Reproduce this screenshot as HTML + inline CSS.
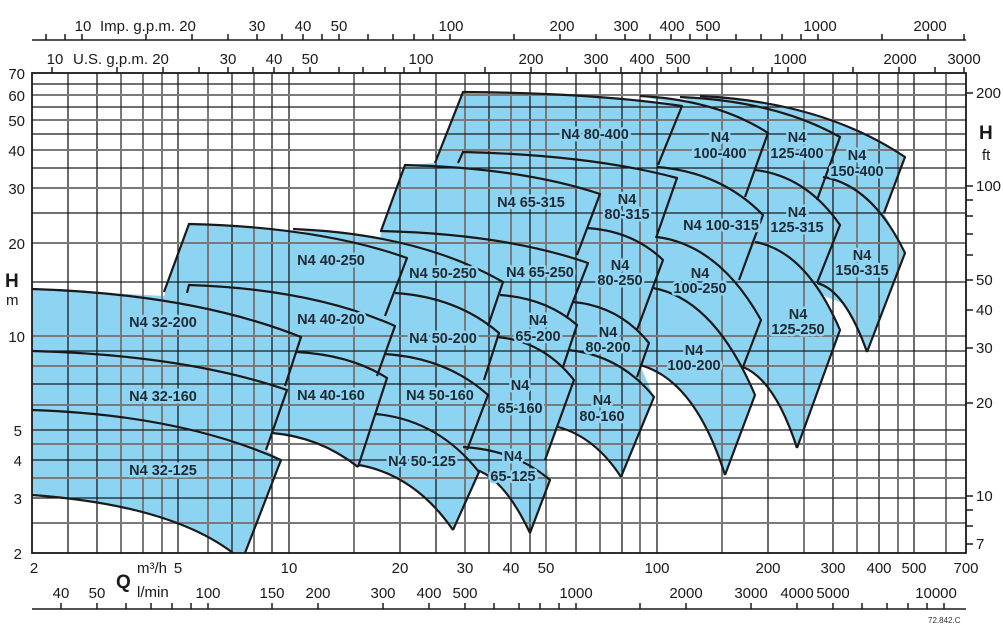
<!DOCTYPE html>
<html><head><meta charset="utf-8"><style>
html,body{margin:0;padding:0;background:#fff;}
svg{display:block;font-family:"Liberation Sans",sans-serif;}
.g1{stroke:#1c1c1c;stroke-width:1.3}
.g2{stroke:#7a7a7a;stroke-width:2}
.f{fill:#8dd3f2;stroke:none}
.s{fill:none;stroke:#1a1a1a;stroke-width:2.2;stroke-linejoin:round}
.t{font-size:15px;fill:#1a1a1a}
.p{font-size:14.5px;font-weight:bold;fill:#1f2a33;stroke:#8dd3f2;stroke-width:5;paint-order:stroke;stroke-linejoin:round}
.tk{stroke:#1a1a1a;stroke-width:1.5}
</style></head><body>
<svg width="1003" height="627" viewBox="0 0 1003 627" xmlns="http://www.w3.org/2000/svg">
<!-- fills -->
<g class="f">
<polygon points="32,289 164,296 189,224 380,247 381,231 405,165 435,163 463,92 682,106 700,97 905,157 884,213 905,253 867,352 856,324 844,304 822,295 840,330 797,448 786,415 772,392 758,375 743,367 755,395 725,475 708,432 689,400 666,378 640,365 654,397 621,477 607,459 592,444 576,434 558,427 545,460 550,480 530,533 517,509 504,491 491,478 477,470 479,472 453,530 433,505 410,486 386,473 359,465 358,467 318,443 272,433 266,450 281,460 245,553 233,553 197,531 151,514 96,502 32,495"/>
<path d="M32,289 Q193,294 301,337 L285,386 L287,390 Q185,355 32,351 Z"/>
<path d="M32,351 Q185,355 287,390 L266,450 L281,460 Q181,415 32,410 Z"/>
<path d="M32,410 Q181,415 281,460 L245,553 L233,553 Q170,505 32,495 Z"/>
<path d="M189,224 Q320,227 407,258 L385,316 L395,326 Q312,289 187,285 L164,292 Z"/>
<path d="M187,285 Q312,289 395,326 L377,376 L387,378 Q351,355 297,352 L301,337 L187,293 Z"/>
<path d="M297,352 Q351,355 387,378 L358,467 Q320,437 272,433 L287,390 Z"/>
<path d="M293,229 Q419,234 503,282 L488,326 L395,293 L407,258 Z"/>
<path d="M395,293 Q457,297 499,333 L484,380 L385,354 L395,326 Z"/>
<path d="M385,354 Q447,358 488,395 L467,450 L376,414 L387,378 Z"/>
<path d="M376,414 Q438,420 479,472 L453,530 Q415,475 359,465 Z"/>
<path d="M405,165 Q522,168 600,194 L577,255 L588,263 Q505,234 380,231 Z"/>
<path d="M380,231 Q505,234 588,263 L567,317 L500,295 L503,282 L407,258 Z"/>
<path d="M500,295 Q546,298 577,325 L563,367 L497,337 Z"/>
<path d="M497,337 Q543,341 574,380 L545,460 L466,448 L488,395 Z"/>
<path d="M463,447 Q515,450 550,480 L530,533 Q505,480 477,470 Z"/>
<path d="M463,92 Q594,93 682,106 L658,165 L677,178 Q591,155 463,152 L458,163 L435,163 Z"/>
<path d="M463,152 Q591,155 677,178 L656,238 L587,228 L600,194 L458,163 Z"/>
<path d="M587,228 Q633,231 663,260 L637,330 L573,302 L588,263 Z"/>
<path d="M573,302 Q619,306 649,343 L637,377 L568,350 L577,325 Z"/>
<path d="M568,350 Q620,355 654,397 L621,477 Q595,437 558,427 L574,380 Z"/>
<path d="M640,96 Q717,100 768,133 L745,197 L657,167 L682,106 Z"/>
<path d="M657,167 Q721,172 763,215 L739,280 L657,237 L677,178 Z"/>
<path d="M657,237 Q719,245 761,320 L743,367 L653,288 L663,260 Z"/>
<path d="M653,288 Q714,299 755,395 L725,475 Q695,380 640,365 L649,343 Z"/>
<path d="M680,97 Q776,101 840,137 L817,200 L755,170 L768,133 Z"/>
<path d="M755,170 Q806,176 840,225 L817,283 L755,242 L763,215 Z"/>
<path d="M755,242 Q806,251 840,330 L797,448 Q775,380 743,367 L761,320 Z"/>
<path d="M700,96 Q823,102 905,157 L884,213 L823,177 L840,137 Z"/>
<path d="M823,177 Q872,185 905,253 L867,352 Q845,290 817,283 L840,225 Z"/>
</g>
<!-- grid vertical -->
<g>
<line class="g1" x1="68" y1="73" x2="68" y2="553"/>
<line class="g1" x1="97" y1="73" x2="97" y2="553"/>
<line class="g2" x1="121" y1="73" x2="121" y2="553"/>
<line class="g2" x1="143" y1="73" x2="143" y2="553"/>
<line class="g2" x1="162" y1="73" x2="162" y2="553"/>
<line class="g1" x1="178" y1="73" x2="178" y2="553"/>
<line class="g2" x1="208" y1="73" x2="208" y2="553"/>
<line class="g1" x1="232" y1="73" x2="232" y2="553"/>
<line class="g2" x1="254" y1="73" x2="254" y2="553"/>
<line class="g1" x1="272" y1="73" x2="272" y2="553"/>
<line class="g1" x1="289" y1="73" x2="289" y2="553"/>
<line class="g2" x1="354" y1="73" x2="354" y2="553"/>
<line class="g1" x1="400" y1="73" x2="400" y2="553"/>
<line class="g1" x1="436" y1="73" x2="436" y2="553"/>
<line class="g2" x1="465" y1="73" x2="465" y2="553"/>
<line class="g1" x1="489" y1="73" x2="489" y2="553"/>
<line class="g2" x1="511" y1="73" x2="511" y2="553"/>
<line class="g1" x1="530" y1="73" x2="530" y2="553"/>
<line class="g2" x1="546" y1="73" x2="546" y2="553"/>
<line class="g1" x1="576" y1="73" x2="576" y2="553"/>
<line class="g2" x1="600" y1="73" x2="600" y2="553"/>
<line class="g1" x1="622" y1="73" x2="622" y2="553"/>
<line class="g2" x1="640" y1="73" x2="640" y2="553"/>
<line class="g1" x1="657" y1="73" x2="657" y2="553"/>
<line class="g2" x1="722" y1="73" x2="722" y2="553"/>
<line class="g1" x1="768" y1="73" x2="768" y2="553"/>
<line class="g2" x1="804" y1="73" x2="804" y2="553"/>
<line class="g1" x1="833" y1="73" x2="833" y2="553"/>
<line class="g2" x1="857" y1="73" x2="857" y2="553"/>
<line class="g1" x1="879" y1="73" x2="879" y2="553"/>
<line class="g2" x1="898" y1="73" x2="898" y2="553"/>
<line class="g1" x1="914" y1="73" x2="914" y2="553"/>
<line class="g2" x1="946" y1="73" x2="946" y2="553"/>
</g>
<!-- grid horizontal -->
<g>
<line class="g2" x1="32" y1="523" x2="966" y2="523"/>
<line class="g1" x1="32" y1="498" x2="966" y2="498"/>
<line class="g2" x1="32" y1="478" x2="966" y2="478"/>
<line class="g1" x1="32" y1="460" x2="966" y2="460"/>
<line class="g2" x1="32" y1="444" x2="966" y2="444"/>
<line class="g1" x1="32" y1="430" x2="966" y2="430"/>
<line class="g2" x1="32" y1="405" x2="966" y2="405"/>
<line class="g1" x1="32" y1="384" x2="966" y2="384"/>
<line class="g2" x1="32" y1="366" x2="966" y2="366"/>
<line class="g1" x1="32" y1="351" x2="966" y2="351"/>
<line class="g2" x1="32" y1="336" x2="966" y2="336"/>
<line class="g1" x1="32" y1="282" x2="966" y2="282"/>
<line class="g2" x1="32" y1="243" x2="966" y2="243"/>
<line class="g1" x1="32" y1="213" x2="966" y2="213"/>
<line class="g2" x1="32" y1="188" x2="966" y2="188"/>
<line class="g1" x1="32" y1="168" x2="966" y2="168"/>
<line class="g2" x1="32" y1="150" x2="966" y2="150"/>
<line class="g1" x1="32" y1="134" x2="966" y2="134"/>
<line class="g2" x1="32" y1="120" x2="966" y2="120"/>
<line class="g1" x1="32" y1="107" x2="966" y2="107"/>
<line class="g2" x1="32" y1="95" x2="966" y2="95"/>
<line class="g1" x1="32" y1="84" x2="966" y2="84"/>
</g>
<rect x="32" y="73" width="934" height="480" fill="none" stroke="#1a1a1a" stroke-width="1.8"/>
<!-- strokes -->
<g class="s">
<path d="M32,289 Q193,294 301,337 L285,386"/>
<path d="M32,351 Q185,355 287,390 L266,450"/>
<path d="M32,410 Q181,415 281,460 L245,553"/>
<path d="M32,495 Q170,505 233,553"/>
<path d="M164,292 L189,224 Q320,227 407,258 L385,316"/>
<path d="M187,293 L189,285 Q312,289 395,326 L377,376"/>
<path d="M297,352 Q351,355 387,378 L358,467"/>
<path d="M272,433 Q320,437 358,467"/>
<path d="M293,229 Q419,234 503,282 L488,326"/>
<path d="M395,293 Q457,297 499,333 L484,380"/>
<path d="M385,354 Q447,358 488,395 L467,450"/>
<path d="M376,414 Q438,420 479,472 L453,530"/>
<path d="M359,465 Q415,475 453,530"/>
<path d="M381,231 L405,165 Q522,168 600,194 L577,255"/>
<path d="M380,231 Q505,234 588,263 L567,317"/>
<path d="M500,295 Q546,298 577,325 L563,367"/>
<path d="M497,337 Q543,341 574,380 L545,460"/>
<path d="M463,447 Q515,450 550,480 L530,533"/>
<path d="M477,470 Q505,480 530,533"/>
<path d="M435,163 L463,92 Q594,93 682,106 L658,165"/>
<path d="M458,163 L463,152 Q591,155 677,178 L656,238"/>
<path d="M587,228 Q633,231 663,260 L637,330"/>
<path d="M573,302 Q619,306 649,343 L637,377"/>
<path d="M568,350 Q620,355 654,397 L621,477"/>
<path d="M558,427 Q595,437 621,477"/>
<path d="M640,96 Q717,100 768,133 L745,197"/>
<path d="M657,167 Q721,172 763,215 L739,280"/>
<path d="M657,237 Q719,245 761,320 L743,367"/>
<path d="M653,288 Q714,299 755,395 L725,475"/>
<path d="M640,365 Q695,380 725,475"/>
<path d="M680,97 Q776,101 840,137 L817,200"/>
<path d="M755,170 Q806,176 840,225 L817,283"/>
<path d="M755,242 Q806,251 840,330 L797,448"/>
<path d="M743,367 Q775,380 797,448"/>
<path d="M700,96 Q823,102 905,157 L884,213"/>
<path d="M823,177 Q872,185 905,253 L867,352"/>
<path d="M817,283 Q845,290 867,352"/>
</g>
<!-- pump labels -->
<g class="p" text-anchor="middle">
<text x="163" y="327">N4 32-200</text>
<text x="163" y="401">N4 32-160</text>
<text x="163" y="475">N4 32-125</text>
<text x="331" y="265">N4 40-250</text>
<text x="331" y="324">N4 40-200</text>
<text x="331" y="400">N4 40-160</text>
<text x="443" y="278">N4 50-250</text>
<text x="443" y="343">N4 50-200</text>
<text x="440" y="400">N4 50-160</text>
<text x="422" y="466">N4 50-125</text>
<text x="540" y="277">N4 65-250</text>
<text x="531" y="207">N4 65-315</text>
<text x="538" y="325">N4</text><text x="538" y="341">65-200</text>
<text x="520" y="390">N4</text><text x="520" y="413">65-160</text>
<text x="513" y="461">N4</text><text x="513" y="481">65-125</text>
<text x="595" y="139">N4 80-400</text>
<text x="627" y="204">N4</text><text x="627" y="219">80-315</text>
<text x="620" y="270">N4</text><text x="620" y="285">80-250</text>
<text x="608" y="337">N4</text><text x="608" y="352">80-200</text>
<text x="602" y="405">N4</text><text x="602" y="421">80-160</text>
<text x="720" y="142">N4</text><text x="720" y="158">100-400</text>
<text x="721" y="230">N4 100-315</text>
<text x="700" y="278">N4</text><text x="700" y="293">100-250</text>
<text x="694" y="355">N4</text><text x="694" y="370">100-200</text>
<text x="797" y="142">N4</text><text x="797" y="158">125-400</text>
<text x="797" y="217">N4</text><text x="797" y="232">125-315</text>
<text x="798" y="319">N4</text><text x="798" y="334">125-250</text>
<text x="857" y="160">N4</text><text x="857" y="176">150-400</text>
<text x="862" y="260">N4</text><text x="862" y="275">150-315</text>
</g>
<!-- left axis -->
<g class="t" text-anchor="end">
<text x="25" y="79">70</text><text x="25" y="101">60</text><text x="25" y="126">50</text>
<text x="25" y="156">40</text><text x="25" y="194">30</text><text x="25" y="249">20</text>
<text x="25" y="342">10</text><text x="22" y="436">5</text><text x="22" y="466">4</text>
<text x="22" y="504">3</text><text x="22" y="559">2</text>
</g>
<text x="5" y="287" style="font-size:19px;font-weight:bold;fill:#1a1a1a">H</text>
<text x="6" y="305" class="t">m</text>
<!-- right axis ticks -->
<g class="tk">
<line x1="966" y1="544" x2="973" y2="544"/><line x1="966" y1="526" x2="973" y2="526"/>
<line x1="966" y1="510" x2="973" y2="510"/><line x1="966" y1="496" x2="973" y2="496"/>
<line x1="966" y1="403" x2="973" y2="403"/><line x1="966" y1="348" x2="973" y2="348"/>
<line x1="966" y1="310" x2="973" y2="310"/><line x1="966" y1="280" x2="973" y2="280"/>
<line x1="966" y1="255" x2="973" y2="255"/><line x1="966" y1="234" x2="973" y2="234"/>
<line x1="966" y1="216" x2="973" y2="216"/><line x1="966" y1="200" x2="973" y2="200"/>
<line x1="966" y1="186" x2="973" y2="186"/><line x1="966" y1="93" x2="973" y2="93"/>
</g>
<g class="t">
<text x="976" y="549">7</text><text x="976" y="501">10</text><text x="976" y="408">20</text>
<text x="976" y="353">30</text><text x="976" y="315">40</text><text x="976" y="285">50</text>
<text x="976" y="191">100</text><text x="976" y="98">200</text>
</g>
<text x="979" y="139" style="font-size:19px;font-weight:bold;fill:#1a1a1a">H</text>
<text x="982" y="160" class="t">ft</text>
<!-- bottom m3/h labels -->
<g class="t" text-anchor="middle">
<text x="34" y="573">2</text><text x="178" y="573">5</text><text x="289" y="573">10</text>
<text x="400" y="573">20</text><text x="465" y="573">30</text><text x="511" y="573">40</text>
<text x="546" y="573">50</text><text x="657" y="573">100</text><text x="768" y="573">200</text>
<text x="833" y="573">300</text><text x="879" y="573">400</text><text x="914" y="573">500</text>
<text x="966" y="573">700</text>
</g>
<text x="137" y="573" class="t">m³/h</text>
<text x="137" y="597" class="t">l/min</text>
<text x="116" y="588" style="font-size:19px;font-weight:bold;fill:#1a1a1a">Q</text>
<!-- l/min axis -->
<line x1="32" y1="609" x2="966" y2="609" stroke="#1a1a1a" stroke-width="1.6"/>
<g class="tk">
<line x1="61" y1="603" x2="61" y2="609"/><line x1="97" y1="603" x2="97" y2="609"/><line x1="126" y1="603" x2="126" y2="609"/>
<line x1="151" y1="603" x2="151" y2="609"/><line x1="172" y1="603" x2="172" y2="609"/><line x1="191" y1="603" x2="191" y2="609"/>
<line x1="208" y1="603" x2="208" y2="609"/><line x1="272" y1="603" x2="272" y2="609"/><line x1="318" y1="603" x2="318" y2="609"/>
<line x1="383" y1="603" x2="383" y2="609"/><line x1="429" y1="603" x2="429" y2="609"/><line x1="465" y1="603" x2="465" y2="609"/>
<line x1="494" y1="603" x2="494" y2="609"/><line x1="519" y1="603" x2="519" y2="609"/><line x1="540" y1="603" x2="540" y2="609"/>
<line x1="559" y1="603" x2="559" y2="609"/><line x1="576" y1="603" x2="576" y2="609"/><line x1="640" y1="603" x2="640" y2="609"/>
<line x1="686" y1="603" x2="686" y2="609"/><line x1="751" y1="603" x2="751" y2="609"/><line x1="797" y1="603" x2="797" y2="609"/>
<line x1="833" y1="603" x2="833" y2="609"/><line x1="862" y1="603" x2="862" y2="609"/><line x1="887" y1="603" x2="887" y2="609"/>
<line x1="908" y1="603" x2="908" y2="609"/><line x1="927" y1="603" x2="927" y2="609"/><line x1="944" y1="603" x2="944" y2="609"/>
</g>
<g class="t" text-anchor="middle">
<text x="61" y="598">40</text><text x="97" y="598">50</text><text x="208" y="598">100</text>
<text x="272" y="598">150</text><text x="318" y="598">200</text><text x="383" y="598">300</text>
<text x="429" y="598">400</text><text x="465" y="598">500</text><text x="576" y="598">1000</text>
<text x="686" y="598">2000</text><text x="751" y="598">3000</text><text x="797" y="598">4000</text>
<text x="833" y="598">5000</text><text x="936" y="598">10000</text>
</g>
<text x="928" y="623" style="font-size:8px;fill:#333">72.842.C</text>
<!-- US gpm axis -->
<g class="tk">
<line x1="52" y1="67" x2="52" y2="73"/><line x1="117" y1="67" x2="117" y2="73"/><line x1="163" y1="67" x2="163" y2="73"/>
<line x1="199" y1="67" x2="199" y2="73"/><line x1="228" y1="67" x2="228" y2="73"/><line x1="253" y1="67" x2="253" y2="73"/>
<line x1="274" y1="67" x2="274" y2="73"/><line x1="293" y1="67" x2="293" y2="73"/><line x1="310" y1="67" x2="310" y2="73"/>
<line x1="339" y1="67" x2="339" y2="73"/><line x1="363" y1="67" x2="363" y2="73"/><line x1="385" y1="67" x2="385" y2="73"/>
<line x1="404" y1="67" x2="404" y2="73"/><line x1="420" y1="67" x2="420" y2="73"/><line x1="485" y1="67" x2="485" y2="73"/>
<line x1="531" y1="67" x2="531" y2="73"/><line x1="567" y1="67" x2="567" y2="73"/><line x1="596" y1="67" x2="596" y2="73"/>
<line x1="621" y1="67" x2="621" y2="73"/><line x1="642" y1="67" x2="642" y2="73"/><line x1="661" y1="67" x2="661" y2="73"/>
<line x1="678" y1="67" x2="678" y2="73"/><line x1="707" y1="67" x2="707" y2="73"/><line x1="731" y1="67" x2="731" y2="73"/>
<line x1="753" y1="67" x2="753" y2="73"/><line x1="772" y1="67" x2="772" y2="73"/><line x1="788" y1="67" x2="788" y2="73"/>
<line x1="853" y1="67" x2="853" y2="73"/><line x1="899" y1="67" x2="899" y2="73"/><line x1="935" y1="67" x2="935" y2="73"/>
<line x1="964" y1="67" x2="964" y2="73"/>
</g>
<g class="t" text-anchor="middle">
<text x="55" y="64">10</text><text x="228" y="64">30</text><text x="274" y="64">40</text>
<text x="310" y="64">50</text><text x="421" y="64">100</text><text x="531" y="64">200</text>
<text x="596" y="64">300</text><text x="642" y="64">400</text><text x="678" y="64">500</text>
<text x="790" y="64">1000</text><text x="900" y="64">2000</text><text x="964" y="64">3000</text>
</g>
<text x="73" y="64" class="t">U.S. g.p.m. 20</text>
<!-- Imp axis -->
<line x1="32" y1="40" x2="966" y2="40" stroke="#1a1a1a" stroke-width="1.6"/>
<g class="tk">
<line x1="46" y1="34" x2="46" y2="40"/><line x1="65" y1="34" x2="65" y2="40"/><line x1="82" y1="34" x2="82" y2="40"/>
<line x1="146" y1="34" x2="146" y2="40"/><line x1="192" y1="34" x2="192" y2="40"/><line x1="228" y1="34" x2="228" y2="40"/>
<line x1="257" y1="34" x2="257" y2="40"/><line x1="282" y1="34" x2="282" y2="40"/><line x1="303" y1="34" x2="303" y2="40"/>
<line x1="322" y1="34" x2="322" y2="40"/><line x1="339" y1="34" x2="339" y2="40"/><line x1="368" y1="34" x2="368" y2="40"/>
<line x1="393" y1="34" x2="393" y2="40"/><line x1="414" y1="34" x2="414" y2="40"/><line x1="433" y1="34" x2="433" y2="40"/>
<line x1="450" y1="34" x2="450" y2="40"/><line x1="514" y1="34" x2="514" y2="40"/><line x1="560" y1="34" x2="560" y2="40"/>
<line x1="596" y1="34" x2="596" y2="40"/><line x1="625" y1="34" x2="625" y2="40"/><line x1="650" y1="34" x2="650" y2="40"/>
<line x1="671" y1="34" x2="671" y2="40"/><line x1="690" y1="34" x2="690" y2="40"/><line x1="707" y1="34" x2="707" y2="40"/>
<line x1="736" y1="34" x2="736" y2="40"/><line x1="761" y1="34" x2="761" y2="40"/><line x1="782" y1="34" x2="782" y2="40"/>
<line x1="801" y1="34" x2="801" y2="40"/><line x1="818" y1="34" x2="818" y2="40"/><line x1="882" y1="34" x2="882" y2="40"/>
<line x1="928" y1="34" x2="928" y2="40"/><line x1="964" y1="34" x2="964" y2="40"/>
</g>
<g class="t" text-anchor="middle">
<text x="83" y="31">10</text><text x="257" y="31">30</text><text x="303" y="31">40</text>
<text x="339" y="31">50</text><text x="451" y="31">100</text><text x="562" y="31">200</text>
<text x="626" y="31">300</text><text x="672" y="31">400</text><text x="708" y="31">500</text>
<text x="820" y="31">1000</text><text x="930" y="31">2000</text>
</g>
<text x="100" y="31" class="t">Imp. g.p.m. 20</text>
</svg>
</body></html>
